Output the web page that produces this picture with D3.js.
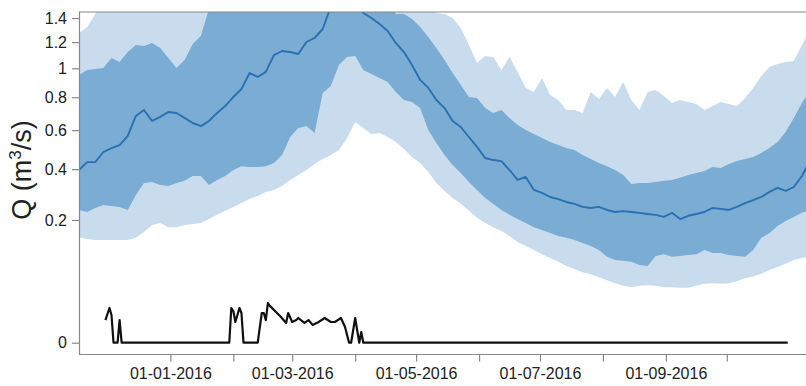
<!DOCTYPE html>
<html>
<head>
<meta charset="utf-8">
<script src="https://cdn.jsdelivr.net/npm/d3@7"></script>
<style>
  html, body { margin: 0; padding: 0; background: #fff; }
  svg { display: block; font-family: "Liberation Sans", Arial, sans-serif; }
</style>
</head>
<body>
<svg id="chart" width="806" height="386"></svg>
<script>
// Simulated discharge envelope (every 4 days from 17-11-2015) and observed discharge, m3/s
const bandStart = new Date(2015, 10, 17);
const bandEnd = new Date(2016, 10, 14);

const median = [
  0.396, 0.433, 0.433, 0.483, 0.503, 0.519, 0.568, 0.683, 0.719, 0.653,
  0.677, 0.707, 0.701, 0.671, 0.641, 0.623, 0.653, 0.701, 0.744, 0.802,
  0.855, 0.966, 0.938, 0.974, 1.099, 1.130, 1.122, 1.107, 1.201, 1.233,
  1.307, 1.500, 1.560, 1.580, 1.520, 1.444, 1.400, 1.349, 1.291, 1.193,
  1.122, 1.024, 0.917, 0.862, 0.782, 0.731, 0.653, 0.618, 0.562, 0.509,
  0.453, 0.443, 0.438, 0.396, 0.352, 0.365, 0.310, 0.298, 0.282, 0.274,
  0.263, 0.256, 0.245, 0.241, 0.245, 0.234, 0.227, 0.230, 0.227, 0.224,
  0.220, 0.217, 0.210, 0.224, 0.203, 0.214, 0.220, 0.227, 0.241, 0.238,
  0.234, 0.245, 0.259, 0.270, 0.282, 0.302, 0.318, 0.306, 0.322, 0.369,
  0.443
];

const innerUpper = [
  0.952, 0.988, 0.995, 1.002, 1.076, 1.046, 1.122, 1.177, 1.169, 1.193,
  1.154, 1.076, 1.002, 1.061, 1.185, 1.250, 1.480, 1.540, 1.580, 1.620,
  1.650, 1.700, 1.720, 1.750, 1.780, 1.800, 1.820, 1.850, 1.880, 1.900,
  1.920, 1.950, 1.950, 1.930, 1.900, 1.850, 1.780, 1.700, 1.600, 1.435,
  1.435, 1.391, 1.324, 1.242, 1.154, 1.061, 0.966, 0.882, 0.802, 0.795,
  0.731, 0.701, 0.719, 0.671, 0.629, 0.601, 0.579, 0.557, 0.535, 0.519,
  0.503, 0.493, 0.468, 0.448, 0.429, 0.414, 0.396, 0.374, 0.335, 0.339,
  0.339, 0.343, 0.348, 0.352, 0.361, 0.374, 0.383, 0.392, 0.410, 0.405,
  0.424, 0.438, 0.448, 0.458, 0.478, 0.503, 0.535, 0.590, 0.671, 0.763,
  0.848
];

const innerLower = [
  0.234, 0.227, 0.241, 0.252, 0.248, 0.245, 0.234, 0.290, 0.339, 0.343,
  0.330, 0.326, 0.339, 0.348, 0.369, 0.369, 0.330, 0.352, 0.369, 0.396,
  0.414, 0.410, 0.410, 0.414, 0.429, 0.468, 0.562, 0.612, 0.623, 0.584,
  0.828, 0.875, 1.024, 1.084, 1.091, 0.988, 0.959, 0.931, 0.903, 0.835,
  0.782, 0.769, 0.731, 0.601, 0.530, 0.468, 0.419, 0.383, 0.343, 0.310,
  0.278, 0.256, 0.234, 0.217, 0.203, 0.190, 0.177, 0.169, 0.160, 0.151,
  0.146, 0.140, 0.132, 0.124, 0.114, 0.098, 0.091, 0.089, 0.087, 0.080,
  0.078, 0.100, 0.104, 0.098, 0.100, 0.102, 0.104, 0.114, 0.107, 0.107,
  0.102, 0.100, 0.098, 0.114, 0.146, 0.160, 0.181, 0.197, 0.210, 0.224,
  0.234
];

const outerUpper = [
  1.274, 1.324, 1.435, 1.600, 1.650, 1.700, 1.750, 1.800, 1.850, 1.900,
  1.950, 2.000, 2.000, 2.000, 2.000, 2.000, 2.050, 2.100, 2.100, 2.100,
  2.150, 2.150, 2.200, 2.200, 2.200, 2.250, 2.250, 2.250, 2.300, 2.300,
  2.300, 2.300, 2.300, 2.300, 2.250, 2.250, 2.200, 2.150, 2.100, 2.000,
  1.900, 1.800, 1.700, 1.600, 1.444, 1.435, 1.400, 1.316, 1.177, 1.039,
  1.091, 1.084, 0.988, 1.084, 0.974, 0.862, 0.835, 0.931, 0.815, 0.782,
  0.719, 0.719, 0.701, 0.835, 0.788, 0.862, 0.802, 0.903, 0.782, 0.719,
  0.835, 0.848, 0.808, 0.763, 0.782, 0.769, 0.757, 0.719, 0.744, 0.769,
  0.757, 0.744, 0.795, 0.862, 0.945, 1.010, 1.032, 1.046, 1.054, 1.177,
  1.299
];

const outerLower = [
  0.148, 0.143, 0.140, 0.140, 0.140, 0.140, 0.140, 0.146, 0.163, 0.184,
  0.190, 0.177, 0.177, 0.184, 0.187, 0.190, 0.203, 0.217, 0.231, 0.245,
  0.259, 0.274, 0.286, 0.302, 0.310, 0.326, 0.352, 0.374, 0.396, 0.424,
  0.448, 0.468, 0.493, 0.557, 0.647, 0.612, 0.579, 0.584, 0.562, 0.535,
  0.498, 0.458, 0.429, 0.387, 0.339, 0.306, 0.278, 0.256, 0.231, 0.207,
  0.190, 0.177, 0.166, 0.151, 0.135, 0.124, 0.114, 0.104, 0.095, 0.087,
  0.078, 0.072, 0.066, 0.062, 0.057, 0.052, 0.047, 0.043, 0.041, 0.043,
  0.044, 0.043, 0.041, 0.041, 0.040, 0.040, 0.043, 0.046, 0.047, 0.046,
  0.047, 0.050, 0.055, 0.058, 0.063, 0.070, 0.076, 0.083, 0.091, 0.095,
  0.099
];

const obsDates = [
  "2015-11-30", "2015-12-02", "2015-12-03", "2015-12-04", "2015-12-06", "2015-12-07", "2015-12-08",
  "2016-01-30", "2016-01-31", "2016-02-01", "2016-02-02", "2016-02-04", "2016-02-05", "2016-02-06",
  "2016-02-13", "2016-02-15", "2016-02-16", "2016-02-17", "2016-02-18", "2016-02-19", "2016-02-22",
  "2016-02-24", "2016-02-27", "2016-02-28", "2016-03-01", "2016-03-03", "2016-03-04", "2016-03-07",
  "2016-03-09", "2016-03-11", "2016-03-14", "2016-03-17", "2016-03-20", "2016-03-22", "2016-03-25",
  "2016-03-27", "2016-03-29", "2016-03-30", "2016-04-01", "2016-04-03", "2016-04-04", "2016-04-05",
  "2016-10-31"
];
const obsValues = [
  0.0068, 0.0160, 0.0102, 0, 0, 0.0068, 0,
  0, 0.0160, 0.0133, 0.0057, 0.0160, 0.0117, 0,
  0, 0.0117, 0.0117, 0.0068, 0.0209, 0.0180, 0.0125,
  0.0095, 0.0052, 0.0117, 0.0057, 0.0068, 0.0081, 0.0052,
  0.0068, 0.0042, 0.0057, 0.0081, 0.0057, 0.0057, 0.0081,
  0.0033, 0, 0, 0.0081, 0, 0.0015, 0,
  0
];

const yTicks = [0, 0.2, 0.4, 0.6, 0.8, 1, 1.2, 1.4];
const xTickMonths = ["2016-01-01", "2016-02-01", "2016-03-01", "2016-04-01", "2016-05-01",
                     "2016-06-01", "2016-07-01", "2016-08-01", "2016-09-01", "2016-10-01"];
const xLabelledMonths = ["2016-01-01", "2016-03-01", "2016-05-01", "2016-07-01", "2016-09-01"];

const parse = d3.timeParse("%Y-%m-%d");
const bandDates = d3.timeDay.range(bandStart, bandEnd, 4);
const bands = bandDates.map((d, i) => ({
  date: d,
  med: median[i], iu: innerUpper[i], il: innerLower[i], ou: outerUpper[i], ol: outerLower[i]
}));
const observed = obsDates.map((d, i) => ({ date: parse(d), q: obsValues[i] }));

const svg = d3.select("#chart");
const plotLeft = 79.5, plotRight = 806, plotTop = 12, axisY = 354.5;

const x = d3.scaleTime()
  .domain([new Date(2015, 10, 17), new Date(2016, 10, 9)])
  .range([79, 806]);
const y = d3.scaleSqrt()
  .domain([0, 1.4524])
  .range([342.7, 12]);

svg.append("defs").append("clipPath").attr("id", "plot-clip")
  .append("rect").attr("x", plotLeft).attr("y", plotTop)
  .attr("width", plotRight - plotLeft).attr("height", axisY - plotTop);

const plot = svg.append("g").attr("clip-path", "url(#plot-clip)");

const colOuter = "#c8dcee", colInner = "#7aacd4", colMedian = "#2a70b2";

plot.append("path").datum(bands)
  .attr("fill", colOuter)
  .attr("d", d3.area().x(d => x(d.date)).y0(d => y(d.ol)).y1(d => y(d.ou)));

plot.append("path").datum(bands)
  .attr("fill", colInner)
  .attr("d", d3.area().x(d => x(d.date)).y0(d => y(d.il)).y1(d => y(d.iu)));

plot.append("path").datum(bands)
  .attr("fill", "none")
  .attr("stroke", colMedian)
  .attr("stroke-width", 1.9)
  .attr("stroke-linejoin", "round")
  .attr("d", d3.line().x(d => x(d.date)).y(d => y(d.med)));

plot.append("path").datum(observed)
  .attr("fill", "none")
  .attr("stroke", "#111")
  .attr("stroke-width", 2.2)
  .attr("stroke-linejoin", "round")
  .attr("d", d3.line().x(d => x(d.date)).y(d => y(d.q)));

// frame: top, left and bottom edges of the plotting region
const frameCol = "#888";
svg.append("path")
  .attr("fill", "none").attr("stroke", frameCol).attr("stroke-width", 1.2)
  .attr("d", `M${plotRight},${plotTop}H${plotLeft}V${axisY}H${plotRight}`);

// y axis
const yAxis = svg.append("g")
  .attr("transform", `translate(${plotLeft},0)`)
  .call(d3.axisLeft(y).tickValues(yTicks).tickFormat(d3.format("~g")).tickSize(7.5).tickPadding(5));
yAxis.select(".domain").remove();
yAxis.selectAll(".tick line").attr("stroke", frameCol).attr("stroke-width", 1.2);
yAxis.selectAll(".tick text").attr("fill", "#222").style("font-size", "16px")
  .style("font-family", "'Liberation Sans', Arial, sans-serif");

// x axis
const labelled = new Set(xLabelledMonths);
const xAxis = svg.append("g")
  .attr("transform", `translate(0,${axisY})`)
  .call(d3.axisBottom(x)
    .tickValues(xTickMonths.map(parse))
    .tickFormat(d => labelled.has(d3.timeFormat("%Y-%m-%d")(d)) ? d3.timeFormat("%d-%m-%Y")(d) : "")
    .tickSize(7).tickPadding(6));
xAxis.select(".domain").remove();
xAxis.selectAll(".tick line").attr("stroke", frameCol).attr("stroke-width", 1.2);
xAxis.selectAll(".tick text").attr("fill", "#222").style("font-size", "16px")
  .style("font-family", "'Liberation Sans', Arial, sans-serif");

// y axis title
const title = svg.append("text")
  .attr("transform", "translate(31,170) rotate(-90)")
  .attr("text-anchor", "middle")
  .attr("fill", "#222")
  .style("font-size", "27px");
title.append("tspan").text("Q (m");
title.append("tspan").attr("dy", -10).style("font-size", "17px").text("3");
title.append("tspan").attr("dy", 10).text("/s)");
</script>
</body>
</html>
